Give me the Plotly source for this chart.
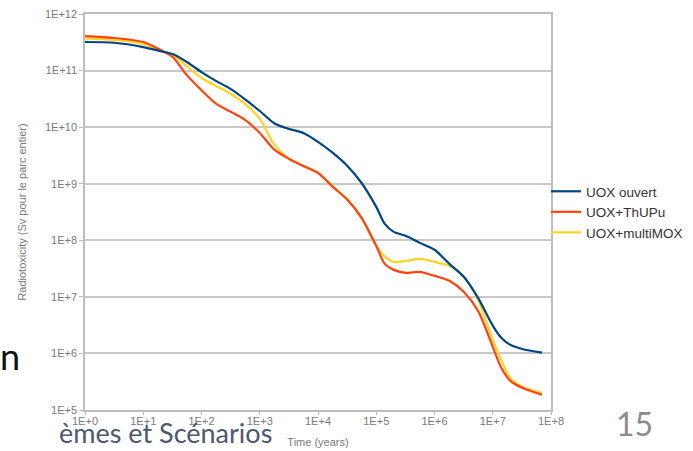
import plotly.graph_objects as go

# ---- data ----
time_years = [1, 3.2, 10, 20, 32, 56, 100, 180, 320, 560, 1000, 1800, 3200, 5600,
              1e4, 1.8e4, 3.2e4, 5.6e4, 1e5, 1.4e5, 2e5, 3.2e5, 5.6e5, 1e6, 1.8e6,
              3.2e6, 5.6e6, 1e7, 1.4e7, 2e7, 3.2e7, 7e7]

uox_ouvert = [3.2e11, 3.1e11, 2.6e11, 2.2e11, 1.96e11, 1.42e11, 9.4e10, 6.5e10, 4.7e10,
              3.1e10, 1.93e10, 1.16e10, 9.3e9, 7.9e9, 5.5e9, 3.5e9, 2.06e9, 1.03e9,
              3.9e8, 1.95e8, 1.41e8, 1.2e8, 9.0e7, 6.8e7, 3.83e7, 2.25e7, 9.6e6,
              3.1e6, 1.89e6, 1.42e6, 1.2e6, 1.03e6]

uox_thupu = [4.08e11, 3.77e11, 3.2e11, 2.31e11, 1.74e11, 8.3e10, 4.5e10, 2.57e10, 1.86e10,
             1.34e10, 7.9e9, 3.95e9, 2.74e9, 2.06e9, 1.55e9, 8.8e8, 5.2e8, 2.49e8,
             7.96e7, 3.83e7, 3.0e7, 2.66e7, 2.77e7, 2.35e7, 1.92e7, 1.22e7, 5.66e6,
             1.31e6, 5.57e5, 3.28e5, 2.47e5, 1.86e5]

uox_multimox = [3.7e11, 3.47e11, 2.95e11, 2.2e11, 1.89e11, 1.2e11, 7.4e10, 5.3e10, 3.86e10,
                2.57e10, 1.4e10, 4.85e9, 2.74e9, 2.06e9, 1.55e9, 8.8e8, 5.2e8, 2.49e8,
                7.96e7, 5.2e7, 4.15e7, 4.3e7, 4.7e7, 4.15e7, 3.53e7, 2.25e7, 8.9e6,
                1.74e6, 7.7e5, 3.7e5, 2.57e5, 2.0e5]

series_names = ["UOX ouvert", "UOX+ThUPu", "UOX+multiMOX"]
series_colors = ["#004586", "#ff420e", "#ffd320"]

x_tickvals = [1, 10, 100, 1e3, 1e4, 1e5, 1e6, 1e7, 1e8]
x_ticktext = ["1E+0", "1E+1", "1E+2", "1E+3", "1E+4", "1E+5", "1E+6", "1E+7", "1E+8"]
y_tickvals = [1e5, 1e6, 1e7, 1e8, 1e9, 1e10, 1e11, 1e12]
y_ticktext = ["1E+5", "1E+6", "1E+7", "1E+8", "1E+9", "1E+10", "1E+11", "1E+12"]

# ---- figure ----
fig = go.Figure()
series_values = [uox_ouvert, uox_thupu, uox_multimox]
# draw yellow first, then red, then blue (blue on top), legend reversed
for idx in [2, 1, 0]:
    fig.add_trace(go.Scatter(
        x=time_years, y=series_values[idx], name=series_names[idx], mode="lines",
        line=dict(color=series_colors[idx], width=2.2, shape="spline", smoothing=0.8),
    ))

L, R, T, B = 85, 142, 14, 41
W, H = 693, 451
pw, ph = W - L - R, H - T - B

def px_x(px):
    return (px - L) / pw

def px_y(py):
    return (H - B - py) / ph

axis_grey = "#bdbdbd"
tick_font = dict(family="Liberation Sans, Arial, sans-serif", size=11, color="#7a7a7a")

fig.update_xaxes(
    type="log", range=[0, 8], tickvals=x_tickvals, ticktext=x_ticktext,
    showgrid=False, showline=True, linecolor=axis_grey, linewidth=1.5, mirror=True,
    ticks="outside", ticklen=3, tickcolor=axis_grey, tickfont=tick_font,
    ticklabelstandoff=-3,
    title=dict(text="Time (years)", font=dict(family="Liberation Sans, Arial, sans-serif",
                                               size=11, color="#7a7a7a"), standoff=12),
    zeroline=False, automargin=False,
)
fig.update_yaxes(
    type="log", range=[5, 12], tickvals=y_tickvals, ticktext=y_ticktext,
    showgrid=True, gridcolor="#c8c8c8", gridwidth=1.5,
    showline=True, linecolor=axis_grey, linewidth=1.5, mirror=True,
    ticks="outside", ticklen=4, tickcolor=axis_grey, tickfont=tick_font,
    title=dict(text="Radiotoxicity (Sv pour le parc entier)",
               font=dict(family="Liberation Sans, Arial, sans-serif", size=11, color="#7a7a7a"),
               standoff=16),
    zeroline=False, automargin=False,
)

fig.update_layout(
    width=W, height=H, autosize=False,
    margin=dict(l=L, r=R, t=T, b=B, pad=0, autoexpand=False),
    paper_bgcolor="white", plot_bgcolor="white",
    font=dict(family="Liberation Sans, Arial, sans-serif"),
    legend=dict(
        xref="container", yref="container",
        x=546 / W, y=1 - 176 / H, xanchor="left", yanchor="top",
        traceorder="reversed", bgcolor="rgba(0,0,0,0)",
        font=dict(family="Liberation Sans, Arial, sans-serif", size=13.5, color="#333333"),
    ),
    annotations=[
        dict(text="n", xref="paper", yref="paper", x=px_x(-2), y=px_y(380),
             xanchor="left", yanchor="bottom", showarrow=False,
             font=dict(family="Lato, sans-serif", size=36, color="#111111")),
        dict(text="èmes et Scénarios", xref="paper", yref="paper", x=px_x(57), y=px_y(451),
             xanchor="left", yanchor="bottom", showarrow=False,
             font=dict(family="Lato, sans-serif", size=27, color="#4b5870")),
        dict(text="15", xref="paper", yref="paper", x=px_x(634), y=px_y(445),
             xanchor="center", yanchor="bottom", showarrow=False,
             font=dict(family="Lato, sans-serif", size=32, color="#8c8c8c")),
    ],
)

fig.write_html("out.html")
